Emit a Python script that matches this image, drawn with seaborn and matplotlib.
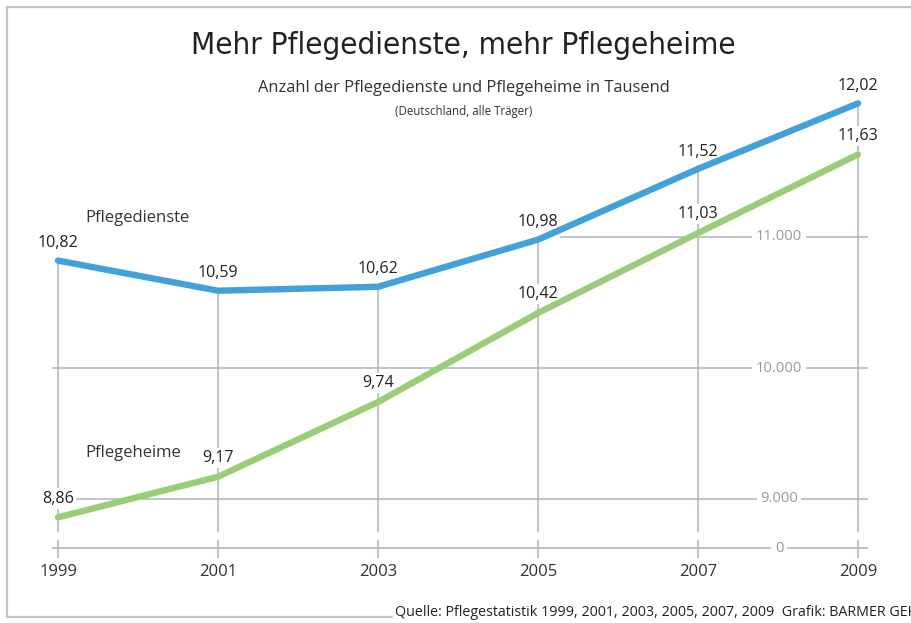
import matplotlib
matplotlib.use("Agg")
import matplotlib.pyplot as plt
import seaborn as sns
import pandas as pd
import numpy as np
from matplotlib.lines import Line2D
from matplotlib import font_manager

years = [1999, 2001, 2003, 2005, 2007, 2009]
pflegedienste = [10.82, 10.59, 10.62, 10.98, 11.52, 12.02]
pflegeheime = [8.86, 9.17, 9.74, 10.42, 11.03, 11.63]
value_labels_dienste = ["10,82", "10,59", "10,62", "10,98", "11,52", "12,02"]
value_labels_heime = ["8,86", "9,17", "9,74", "10,42", "11,03", "11,63"]
ytick_values = [9, 10, 11]
ytick_labels = ["9.000", "10.000", "11.000"]
series_names = ["Pflegedienste", "Pflegeheime"]

df = pd.DataFrame({
    "Jahr": years * 2,
    "Wert": pflegedienste + pflegeheime,
    "Serie": [series_names[0]] * len(years) + [series_names[1]] * len(years),
})

sns.set_style("white")
plt.rcParams["font.family"] = ["Open Sans", "DejaVu Sans"]

# look for a condensed face with regular weight
title_prop = None
for f in font_manager.fontManager.ttflist:
    if f.stretch in ("condensed", "semi-condensed", "extra-condensed", 500, 300, 200, 400) or "ondensed" in f.name or "Narrow" in f.name:
        w = f.weight if isinstance(f.weight, int) else 400
        if f.style == "normal" and 300 <= (w if isinstance(w, int) else 400) <= 450:
            title_prop = font_manager.FontProperties(fname=f.fname)
            break
if title_prop is None:
    title_prop = font_manager.FontProperties(family=["DejaVu Sans"], stretch="condensed")

W, H = 912, 623
fig = plt.figure(figsize=(W / 100, H / 100), dpi=100)

px_per_year = 80.0
px_per_unit = 131.0
xlim = (1998.6, 2009.4)
ylim = (8.4, 12.4)
left_px = 58 - (1999 - xlim[0]) * px_per_year
width_px = (xlim[1] - xlim[0]) * px_per_year
bottom_px_from_top = 499 + (9 - ylim[0]) * px_per_unit
height_px = (ylim[1] - ylim[0]) * px_per_unit
ax = fig.add_axes([left_px / W, (H - bottom_px_from_top) / H, width_px / W, height_px / H])
ax.set_xlim(*xlim)
ax.set_ylim(*ylim)
ax.axis("off")

grid_c = "#a9b5c1"
break_zero = 9 - 49 / px_per_unit
vline_bottom = 9 - 33 / px_per_unit
tick_top = 9 - 41 / px_per_unit
tick_bot = 9 - 59 / px_per_unit
gx0, gx1 = 1999 - 6 / px_per_year, 2009 + 10 / px_per_year

ax.hlines([9, 10], gx0, gx1, color=grid_c, lw=1.1, zorder=1)
ax.hlines([11], 2005.28, gx1, color=grid_c, lw=1.1, zorder=1)
ax.hlines([break_zero], gx0, gx1, color=grid_c, lw=1.1, zorder=1)
ax.vlines(years, vline_bottom, pflegedienste, color=grid_c, lw=1.1, zorder=1)
ax.vlines(years, tick_bot, tick_top, color=grid_c, lw=1.1, zorder=1)

sns.lineplot(data=df, x="Jahr", y="Wert", hue="Serie",
             palette={series_names[0]: "#42a1d8", series_names[1]: "#9acd78"},
             lw=4.6, ax=ax, legend=False, zorder=4,
             solid_capstyle="round", solid_joinstyle="round")

ylab_x = 2009 - 79 / px_per_year
bbox_w = dict(facecolor="white", edgecolor="none", pad=2.5)
for v, t in zip(ytick_values, ytick_labels):
    ax.text(ylab_x, v, t, ha="center", va="center", fontsize=10.6, color="#9a9a9a",
            bbox=bbox_w, zorder=2)
ax.text(ylab_x, break_zero, "0", ha="center", va="center", fontsize=10.6, color="#9a9a9a",
        bbox=dict(facecolor="white", edgecolor="none", pad=3), zorder=2)

year_y = 9 - 73 / px_per_unit
for yr in years:
    ax.text(yr, year_y, str(yr), ha="center", va="center", fontsize=12, color="#333333")

for yr, v, t in zip(years, pflegedienste, value_labels_dienste):
    ax.annotate(t, (yr, v), xytext=(0, 12.5), textcoords="offset points",
                ha="center", va="center", fontsize=11.6, color="#222222",
                bbox=dict(facecolor="white", edgecolor="none", pad=1.5), zorder=3)
for yr, v, t in zip(years, pflegeheime, value_labels_heime):
    ax.annotate(t, (yr, v), xytext=(0, 13.5), textcoords="offset points",
                ha="center", va="center", fontsize=11.6, color="#222222",
                bbox=dict(facecolor="white", edgecolor="none", pad=1.5), zorder=3)

fig.text(85 / W, 1 - 218 / H, series_names[0], ha="left", va="center", fontsize=12, color="#333333")
fig.text(85 / W, 1 - 453 / H, series_names[1], ha="left", va="center", fontsize=12, color="#333333")

title_prop.set_size(22.5)
fig.text(463 / W, 1 - 46 / H, "Mehr Pflegedienste, mehr Pflegeheime", ha="center", va="center",
         color="#222222", fontproperties=title_prop)
fig.text(464 / W, 1 - 88 / H, "Anzahl der Pflegedienste und Pflegeheime in Tausend", ha="center",
         va="center", fontsize=11.9, color="#333333")
fig.text(464 / W, 1 - 112 / H, "(Deutschland, alle Träger)", ha="center", va="center",
         fontsize=8.3, color="#333333")

fc = "#c4c4c4"
fig.add_artist(Line2D([7 / W, 7 / W], [1 - 7 / H, 1 - 617 / H], color=fc, lw=1.6))
fig.add_artist(Line2D([7 / W, 1.0], [1 - 7 / H, 1 - 7 / H], color=fc, lw=1.6))
fig.add_artist(Line2D([7 / W, 392 / W], [1 - 617 / H, 1 - 617 / H], color=fc, lw=1.6))

fig.text(395 / W, 1 - 613 / H,
         "Quelle: Pflegestatistik 1999, 2001, 2003, 2005, 2007, 2009  Grafik: BARMER GEK",
         ha="left", va="center", fontsize=10.3, color="#222222")

fig.savefig("out.png", dpi=100)
